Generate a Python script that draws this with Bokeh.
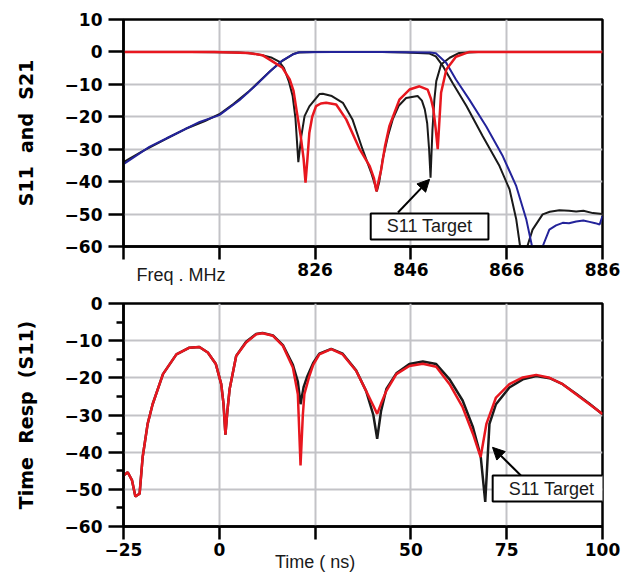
from bokeh.plotting import figure
from bokeh.layouts import column
from bokeh.models import Label, Arrow, NormalHead, FixedTicker, LinearAxis
from bokeh.embed import file_html
from bokeh.resources import INLINE

# ---------------- data: top panel (frequency, MHz / dB) ----------------
s21_meas_f = [786, 790, 795, 799, 803, 806, 809, 812, 815, 817, 819, 820.5, 821.5, 822.5, 826, 830, 835, 840,
              845, 849.9, 851.2, 852.7, 854.8, 857.6, 861.0, 864.5, 866.6, 868.0, 868.8, 869.5, 870.3, 871.4,
              873.5, 875, 877, 879, 880.5, 882, 884, 886]
s21_meas_db = [-34.0, -30.6, -26.7, -23.7, -21.3, -19.2, -16.0, -12.4, -8.2, -5.4, -2.9, -1.5, -0.6, -0.2, 0, 0, 0, 0,
               -0.2, -0.5, -1.4, -4.4, -9.8, -16.7, -26.0, -35.2, -42.4, -51.7, -60, -66, -60, -54.8,
               -50.1, -49.3, -48.8, -49.0, -49.2, -49.0, -49.7, -50.0]

s21_ref_f = [786, 791.4, 796.3, 801.9, 806, 810.2, 813.7, 816.5, 819.3, 821.3, 822.7, 830, 840, 850, 851.2, 853.4,
             855.4, 858.2, 861.7, 865.2, 868.0, 870.1, 871.3, 872, 873.0, 873.5, 874.9, 876.3, 877.7, 879, 880.5,
             882, 883.3, 884.5, 885.4, 886]
s21_ref_db = [-34.6, -29.3, -25.7, -21.6, -19.5, -14.9, -10.2, -6.1, -2.5, -0.8, -0.1, 0, 0, -0.2, -0.4, -3.4,
              -8.5, -14.7, -22.9, -32.2, -41.4, -51.7, -60, -65, -62, -60, -54.8, -53.5, -52.7, -52.8, -52.3,
              -52.0, -52.4, -52.8, -53.2, -50.6]

s11_meas_f = [786, 800, 810, 813, 815, 817, 818.5, 819.5, 820.5, 821.3, 821.9, 822.5, 823.1, 823.8, 824.8, 826.9,
              827.6, 829.5, 831.8, 833.8, 835.9, 837.7, 838.4, 838.9, 839.4, 840.1, 841.2, 842.2, 843.5, 845.0,
              847.4, 848.3, 848.9, 849.4, 849.8, 850.1, 850.5, 850.9, 851.3, 852.3, 854.1, 856.1, 860, 870, 886]
s11_meas_db = [0, 0, -0.2, -0.5, -1.0, -1.8, -3.0, -5.0, -9.0, -13.5, -20.5, -34.0, -26.2, -19.8, -16.8, -13.0,
               -12.9, -13.6, -15.7, -20.8, -30.0, -37.2, -40.5, -43.0, -40.0, -33.2, -26.0, -20.8, -16.5, -14.2,
               -13.6, -15.0, -17.7, -22.0, -30.0, -38.8, -24.0, -14.7, -9.0, -3.9, -1.8, -0.3, 0, 0, 0]

s11_ref_f = [786, 805, 812, 815, 817.1, 819.2, 820.7, 821.5, 822.1, 823.0, 823.6, 824.0, 824.4, 824.8, 825.4, 826.2,
             827.2, 828.3, 830.4, 832.5, 835.3, 837.4, 838.3, 838.8, 839.3, 839.8, 840.6, 841.5, 843.6, 845.7,
             847.8, 849.5, 850.2, 850.7, 851.2, 851.6, 852.0, 852.3, 853.4, 855.4, 858.2, 865, 875, 886]
s11_ref_db = [0, 0, -0.3, -1.0, -2.9, -4.9, -8.5, -12.0, -17.7, -26.0, -33.0, -40.3, -33.0, -24.9, -20.0, -16.7,
              -15.9, -15.7, -16.2, -20.8, -30.0, -35.2, -39.0, -43.0, -39.5, -36.3, -29.0, -22.9, -14.7, -11.6,
              -10.6, -11.6, -14.5, -17.7, -24.0, -30.0, -20.0, -12.6, -5.4, -1.5, 0, 0, 0, 0]

freq_ticks = [786, 806, 826, 846, 866, 886]
freq_tick_labels = ["", "", "826", "846", "866", "886"]
freq_title_at = 798
freq_title = "Freq . MHz"
db_ticks_top = [10, 0, -10, -20, -30, -40, -50, -60]

# ---------------- data: bottom panel (time, ns / dB) ----------------
tr_ref_t = [-25, -23.9, -22.8, -21.9, -20.8, -20.0, -18.7, -17.4, -14.7, -11.2, -7.8, -5.2, -3.0, -0.9, 0.5, 1.1,
            1.6, 2.1, 2.7, 4.4, 7.0, 9.6, 11.3, 14.0, 16.6, 19.2, 20.5, 21.2, 21.8, 22.2, 23.5, 24.5, 26.1, 29.2,
            32.2, 35.7, 38.3, 40.2, 41.2, 42.2, 43.6, 46.2, 49.6, 53.1, 56.6, 60.1, 63.5, 66.2, 68.2, 69.7, 72.2,
            75.7, 79.2, 82.7, 86.2, 89.6, 93.1, 96.6, 100]
tr_ref_db = [-46.3, -45.4, -47.5, -51.9, -51.2, -41.3, -32.4, -27.1, -19.0, -13.7, -11.9, -11.7, -13.2, -16.3, -21.7,
             -27.0, -35.3, -29.0, -23.0, -14.1, -10.5, -8.3, -8.0, -8.7, -11.4, -17.2, -24.4, -43.6, -30.0, -24.4,
             -19.5, -16.5, -13.7, -12.3, -13.7, -18.1, -23.5, -27.5, -29.7, -27.0, -23.5, -19.0, -16.8, -16.2,
             -17.0, -21.7, -27.9, -35.1, -41.3, -32.4, -25.3, -21.7, -19.9, -19.2, -20.0, -21.7, -24.4, -27.1, -29.7]

tr_meas_t = [-25, -23.9, -22.8, -21.9, -20.8, -20.0, -18.7, -17.4, -14.7, -11.2, -7.8, -5.2, -3.0, -0.9, 0.5, 1.1,
             1.6, 2.1, 2.7, 4.4, 7.0, 9.6, 11.3, 14.0, 16.6, 19.2, 20.5, 21.2, 22.0, 23.0, 24.5, 26.1, 29.2, 32.2,
             35.7, 38.3, 40.2, 41.2, 42.2, 43.6, 46.2, 49.6, 53.1, 56.6, 60.1, 63.5, 66.2, 68.2, 69.4, 70.5, 72.2,
             75.7, 79.2, 82.7, 86.2, 89.6, 93.1, 96.6, 100]
tr_meas_db = [-46.3, -45.4, -47.5, -51.9, -51.2, -41.3, -32.4, -27.1, -19.0, -13.7, -11.9, -11.7, -13.2, -16.3,
              -21.7, -27.0, -35.3, -29.0, -23.0, -14.1, -10.3, -8.2, -7.9, -8.6, -11.2, -16.5, -21.0, -27.1, -22.5,
              -19.5, -16.0, -13.5, -12.2, -13.5, -18.0, -23.5, -30.0, -36.4, -29.0, -23.0, -18.8, -16.3, -15.6,
              -16.3, -20.4, -26.1, -33.3, -41.0, -53.4, -32.4, -27.1, -22.6, -20.4, -19.5, -20.1, -21.7, -24.3,
              -27.0, -29.8]

time_ticks = [-25, 0, 25, 50, 75, 100]
time_tick_labels = ["\u221225", "0", "", "50", "75", "100"]
time_title_at = 25
time_title = "Time ( ns)"
db_ticks_bot = [0, -10, -20, -30, -40, -50, -60]

BLACK = "#1a1a1a"
RED = "#e8171f"
BLUE = "#23239a"
GRID = "#c3c3c7"
TICK_FONT = "DejaVu Sans"
NARROW = "Liberation Sans"
NB = "\u00a0"


def minus(v):
    return ("\u2212" + str(abs(v))) if v < 0 else str(v)


def style(p, xt, xl, yt, minor=False):
    p.outline_line_color = "black"
    p.outline_line_width = 2.5
    p.background_fill_color = "white"
    p.border_fill_color = "white"
    p.xaxis.ticker = FixedTicker(ticks=xt)
    p.xaxis.major_label_overrides = {t: l for t, l in zip(xt, xl)}
    if minor:
        p.yaxis.ticker = FixedTicker(ticks=yt, minor_ticks=[v - 5 for v in yt if v > -60])
    else:
        p.yaxis.ticker = FixedTicker(ticks=yt)
    p.yaxis.major_label_overrides = {t: minus(t) for t in yt}
    for ax in (p.xaxis[0], p.yaxis[0]):
        ax.axis_line_color = "black"
        ax.axis_line_width = 2.5
        ax.major_tick_line_color = "black"
        ax.major_tick_line_width = 2.5
        ax.major_tick_in = 0
        ax.minor_tick_in = 0
        ax.major_label_text_font = TICK_FONT
        ax.major_label_text_font_style = "bold"
        ax.major_label_text_font_size = "17px"
        ax.major_label_text_color = "black"
    p.xaxis.major_tick_out = 13
    p.yaxis.major_tick_out = 15
    p.xaxis.minor_tick_line_color = None
    if minor:
        p.yaxis.minor_tick_line_color = "black"
        p.yaxis.minor_tick_line_width = 2.5
        p.yaxis.minor_tick_out = 7
    else:
        p.yaxis.minor_tick_line_color = None
    p.xaxis.major_label_standoff = 3
    p.yaxis.major_label_standoff = 6
    p.yaxis.axis_label_text_font = TICK_FONT
    p.yaxis.axis_label_text_font_style = "bold"
    p.yaxis.axis_label_text_font_size = "19px"
    p.yaxis.axis_label_text_color = "black"
    p.yaxis.axis_label_standoff = 25
    p.xgrid.ticker = FixedTicker(ticks=xt[1:-1])
    p.ygrid.ticker = FixedTicker(ticks=yt)
    for g in (p.xgrid[0], p.ygrid[0]):
        g.grid_line_color = GRID
        g.grid_line_width = 2


def title_axis(p, at, text, standoff):
    ax = LinearAxis(ticker=FixedTicker(ticks=[at]), major_label_overrides={at: text})
    ax.axis_line_color = None
    ax.major_tick_line_color = None
    ax.minor_tick_line_color = None
    ax.major_tick_out = 0
    ax.major_tick_in = 0
    ax.major_label_standoff = standoff
    ax.major_label_text_font = NARROW
    ax.major_label_text_font_size = "18px"
    ax.major_label_text_color = BLACK
    p.add_layout(ax, "below")


# ---------------- top panel ----------------
p1 = figure(width=626, height=288, x_range=(786, 886), y_range=(-60, 10),
            output_backend="svg", toolbar_location=None,
            min_border_left=123, min_border_right=24, min_border_top=19, min_border_bottom=42)
style(p1, freq_ticks, freq_tick_labels, db_ticks_top)
p1.yaxis.axis_label = "S11" + NB * 2 + "and" + NB * 2 + "S21"
title_axis(p1, freq_title_at, freq_title, -14)

p1.line(s11_meas_f, s11_meas_db, line_color=BLACK, line_width=2)
p1.line(s21_meas_f, s21_meas_db, line_color=BLACK, line_width=2)
p1.line(s21_ref_f, s21_ref_db, line_color=BLUE, line_width=2)
p1.line(s11_ref_f, s11_ref_db, line_color=RED, line_width=2.5)

p1.add_layout(Arrow(end=NormalHead(size=12, fill_color="black", line_color="black"),
                    x_start=843.3, y_start=-49.5, x_end=849.9, y_end=-39.3,
                    line_color="black", line_width=2))
p1.add_layout(Label(x=849.9, y=-53.8, text="S11 Target", text_align="center", text_baseline="middle",
                    text_font=NARROW, text_font_size="18px", text_color=BLACK,
                    border_line_color="black", border_line_width=2, background_fill_color="white",
                    padding=dict(left=16, right=16, top=3, bottom=3)))

# ---------------- bottom panel ----------------
p2 = figure(width=626, height=286, x_range=(-25, 100), y_range=(-60, 0),
            output_backend="svg", toolbar_location=None,
            min_border_left=123, min_border_right=24, min_border_top=15, min_border_bottom=47)
style(p2, time_ticks, time_tick_labels, db_ticks_bot, minor=True)
p2.yaxis.axis_label = "Time" + NB * 2 + "Resp" + NB * 2 + "(S11)"
title_axis(p2, time_title_at, time_title, -7)

p2.line(tr_meas_t, tr_meas_db, line_color=BLACK, line_width=2.5)
p2.line(tr_ref_t, tr_ref_db, line_color=RED, line_width=2.5)

p2.add_layout(Arrow(end=NormalHead(size=12, fill_color="black", line_color="black"),
                    x_start=78.7, y_start=-46.3, x_end=71.3, y_end=-38.7,
                    line_color="black", line_width=2))
p2.add_layout(Label(x=86.7, y=-49.8, text="S11 Target", text_align="center", text_baseline="middle",
                    text_font=NARROW, text_font_size="18px", text_color=BLACK,
                    border_line_color="black", border_line_width=2, background_fill_color="white",
                    padding=dict(left=16, right=16, top=3, bottom=3)))

layout = column(p1, p2, spacing=0)
open("out.html", "w").write(file_html(layout, INLINE))
